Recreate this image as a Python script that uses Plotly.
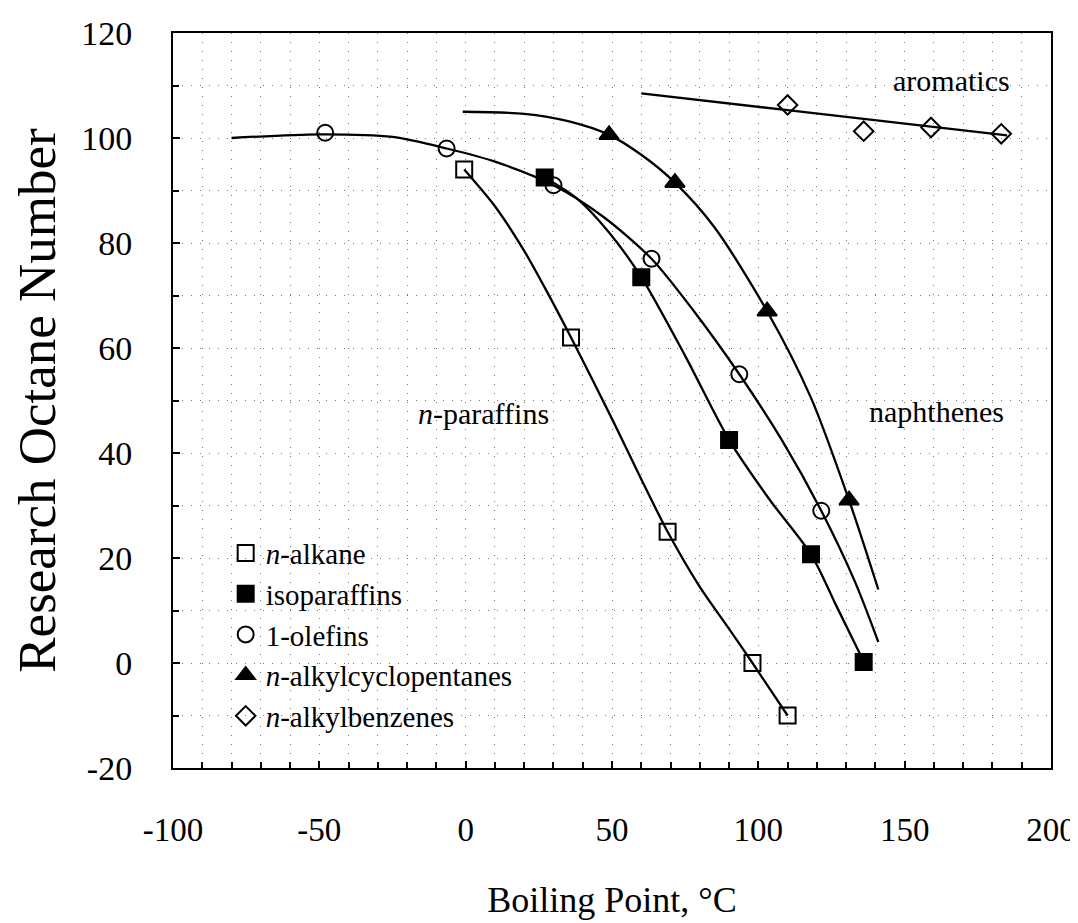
import plotly.graph_objects as go

# ---- marker data (boiling point degC, research octane number) ----
alkane_x = [-0.5, 36, 69, 98, 110]
alkane_y = [94, 62, 25, 0, -10]

iso_x = [27, 60, 90, 118, 136]
iso_y = [92.5, 73.5, 42.5, 20.7, 0.2]

olefin_x = [-48, -6.5, 30, 63.5, 93.5, 121.5]
olefin_y = [101, 98, 91, 77, 55, 29]

cyclo_x = [49, 71.5, 103, 131]
cyclo_y = [100.6, 91.5, 67, 31]

benz_x = [110, 136, 159, 183]
benz_y = [106.3, 101.3, 102, 100.8]

# ---- fitted curves ----
paraffin_curve_x = [-0.5, 10, 20, 28, 36, 50, 60, 69, 80, 90, 98, 110]
paraffin_curve_y = [94, 87, 78.5, 70.5, 62, 46.5, 35, 25, 14.5, 6.5, 0, -10]

iso_curve_x = [27, 38, 49, 60, 75, 90, 104, 118, 127, 136]
iso_curve_y = [92.5, 88.5, 82, 73.5, 58.5, 42.5, 31, 20.7, 10.5, 0.3]

olefin_curve_x = [-80, -50, -25, -6.5, 10, 30, 47, 63.5, 78, 93.5, 108, 121.5, 133, 141]
olefin_curve_y = [100, 100.7, 100.2, 98, 95.5, 91, 85, 77, 67, 55, 42.5, 29, 15.5, 4]

cyclo_curve_x = [-1, 20, 35, 49, 60, 71.5, 85, 103, 118, 131, 141]
cyclo_curve_y = [105, 104.6, 103.2, 100.6, 96.8, 91.5, 83, 67, 50.5, 31, 14]

arom_curve_x = [60, 110, 185]
arom_curve_y = [108.5, 105.3, 100.5]

# ---- labels ----
x_ticks = [-100, -50, 0, 50, 100, 150, 200]
y_ticks = [-20, 0, 20, 40, 60, 80, 100, 120]
region_labels = ["<i>n</i>-paraffins", "naphthenes", "aromatics"]
region_x = [6, 161, 166]
region_y = [47.5, 48, 111]

FONT = "Liberation Serif, Times New Roman, serif"

fig = go.Figure()

line_style = dict(color="black", width=2.3, shape="spline", smoothing=0.8)
for cx, cy in [(paraffin_curve_x, paraffin_curve_y), (iso_curve_x, iso_curve_y),
               (olefin_curve_x, olefin_curve_y), (cyclo_curve_x, cyclo_curve_y),
               (arom_curve_x, arom_curve_y)]:
    fig.add_trace(go.Scatter(x=cx, y=cy, mode="lines", line=line_style,
                             showlegend=False, hoverinfo="skip"))

series = [
    ("<i>n</i>-alkane", alkane_x, alkane_y, "square-open", 16),
    ("isoparaffins", iso_x, iso_y, "square", 16),
    ("1-olefins", olefin_x, olefin_y, "circle-open", 16),
    ("<i>n</i>-alkylcyclopentanes", cyclo_x, cyclo_y, "triangle-up", 17),
    ("<i>n</i>-alkylbenzenes", benz_x, benz_y, "diamond-open", 15),
]
for i, (name, sx, sy, sym, size) in enumerate(series):
    fig.add_trace(go.Scatter(
        x=sx, y=sy, mode="markers", name=name, legendgroup=f"g{i}",
        marker=dict(symbol=sym, size=size, color="black",
                    line=dict(color="black", width=2)),
    ))

for txt, tx, ty in zip(region_labels, region_x, region_y):
    fig.add_annotation(x=tx, y=ty, text=txt, showarrow=False,
                       font=dict(family=FONT, size=30, color="black"))

grid_dash = "1px,8px"
fig.update_xaxes(
    range=[-100, 200], tickvals=x_ticks, ticktext=[str(v) for v in x_ticks],
    ticks="inside", ticklen=7, tickwidth=1.5, tickcolor="black",
    showline=True, linecolor="black", linewidth=2, mirror=True,
    showgrid=True, gridcolor="#777", griddash=grid_dash, gridwidth=1,
    minor=dict(dtick=10, ticks="inside", ticklen=6, tickcolor="black",
               showgrid=True, gridcolor="#777", griddash=grid_dash, gridwidth=1),
    zeroline=False, tickfont=dict(family=FONT, size=33, color="black"),
    ticklabelstandoff=31,
    title=dict(text="Boiling Point, °C", font=dict(family=FONT, size=36, color="black"),
               standoff=40),
)
fig.update_yaxes(
    range=[-20, 120], tickvals=y_ticks, ticktext=[str(v) for v in y_ticks],
    ticks="inside", ticklen=7, tickwidth=1.5, tickcolor="black",
    showline=True, linecolor="black", linewidth=2, mirror=True,
    showgrid=True, gridcolor="#777", griddash=grid_dash, gridwidth=1,
    minor=dict(dtick=10, ticks="inside", ticklen=6, tickcolor="black",
               showgrid=True, gridcolor="#777", griddash=grid_dash, gridwidth=1),
    zeroline=False, tickfont=dict(family=FONT, size=34, color="black"),
    ticklabelstandoff=32,
    title=dict(text="Research Octane Number", font=dict(family=FONT, size=53, color="black"),
               standoff=18),
)

fig.update_layout(
    width=1078, height=923,
    margin=dict(l=165, r=35, t=25, b=163, autoexpand=False),
    plot_bgcolor="white", paper_bgcolor="white",
    font=dict(family=FONT, color="black"),
    legend=dict(x=0.06, y=0.327, xanchor="left", yanchor="top",
                bgcolor="rgba(255,255,255,0)", tracegroupgap=0,
                font=dict(family=FONT, size=29, color="black")),
)

fig.write_html("out.html")
